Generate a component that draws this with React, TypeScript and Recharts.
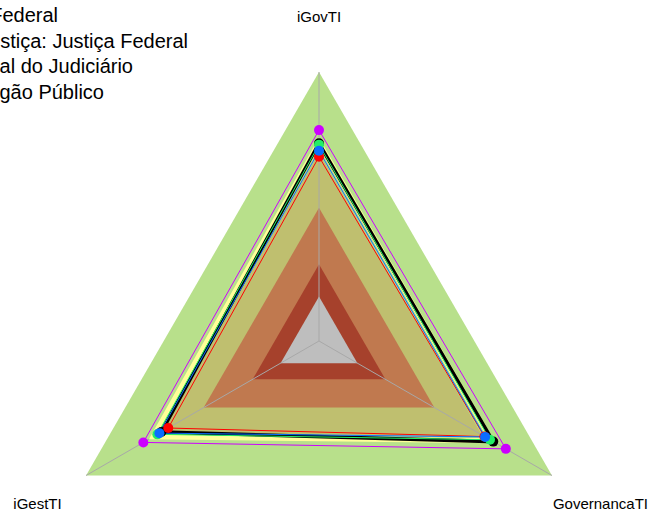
import { RadarChart, Radar, PolarGrid, PolarAngleAxis, PolarRadiusAxis } from 'recharts'

const indicators = ['iGovTI', 'GovernancaTI', 'iGestTI']

// faixas de referência (do maior para o menor)
const bandLimits = [1.0, 0.7, 0.495, 0.285, 0.165]
const bandColors = ['#b8e08b', '#bfbf6f', '#c0794f', '#a6412c', '#bebebe']

const yellowValues = [0.738, 0.742, 0.712]
const blackValues = [0.735, 0.748, 0.677]
const redValues = [0.685, 0.71, 0.647]
const greenValues = [0.73, 0.734, 0.694]
const blueValues = [0.707, 0.713, 0.685]
const magentaValues = [0.784, 0.802, 0.754]

const legendLabels = [
  'Administração Pública Federal',
  'Segmento de Justiça: Justiça Federal',
  'Média Geral do Judiciário',
  'Órgão Público',
]

const CX = 319
const CY = 341
const OUTER = 269
const LABEL_R = 325

const series = [
  { key: 'yellow', values: yellowValues, color: '#ffff99', width: 5, dot: false },
  { key: 'black', values: blackValues, color: '#000000', width: 3.5, dot: true },
  { key: 'red', values: redValues, color: '#ff0000', width: 1, dot: true },
  { key: 'green', values: greenValues, color: '#22ee66', width: 1, dot: true },
  { key: 'blue', values: blueValues, color: '#0a6cff', width: 1, dot: true },
  { key: 'magenta', values: magentaValues, color: '#cc00ff', width: 1, dot: true },
]

const data = indicators.map((name, i) => {
  const row: Record<string, number | string> = { name }
  bandLimits.forEach((v, b) => {
    row['band' + b] = v
  })
  series.forEach((s) => {
    row[s.key] = s.values[i]
  })
  return row
})

function AxisLabel(props: any) {
  const { x, y, payload } = props
  const dx = x - CX
  const dy = y - CY
  const len = Math.hypot(dx, dy) || 1
  const tx = CX + (dx / len) * LABEL_R
  const ty = CY + (dy / len) * LABEL_R
  return (
    <text x={tx} y={ty} textAnchor="middle" dominantBaseline="central" fontSize={15} fill="#000">
      {payload.value}
    </text>
  )
}

const makeDot = (color: string) => (p: any) => (
  <circle key={`${color}-${p.index}`} cx={p.cx} cy={p.cy} r={5} fill={color} stroke="none" />
)

export default function App() {
  return (
    <div
      style={{
        position: 'absolute',
        left: 0,
        top: 0,
        width: 652,
        height: 511,
        background: '#fff',
        overflow: 'hidden',
        fontFamily: '"Liberation Sans", Arial, sans-serif',
      }}
    >
      <RadarChart
        width={652}
        height={511}
        data={data}
        cx={CX}
        cy={CY}
        outerRadius={OUTER}
        margin={{ top: 0, right: 0, bottom: 0, left: 0 }}
      >
        <PolarRadiusAxis domain={[0, 1]} tick={false} axisLine={false} />
        {bandLimits.map((_, b) => (
          <Radar
            key={'band' + b}
            dataKey={'band' + b}
            stroke="none"
            fill={bandColors[b]}
            fillOpacity={1}
            dot={false}
            zIndex={-200}
            isAnimationActive={false}
          />
        ))}
        <PolarGrid gridType="polygon" polarRadius={[0]} stroke="#a8a8a8" strokeWidth={1} />
        <PolarAngleAxis dataKey="name" tick={<AxisLabel />} tickLine={false} axisLine={false} />
        {series.map((s) => (
          <Radar
            key={s.key}
            dataKey={s.key}
            stroke={s.color}
            strokeWidth={s.width}
            fill="none"
            fillOpacity={0}
            dot={s.dot ? makeDot(s.color) : false}
            isAnimationActive={false}
          />
        ))}
      </RadarChart>
      <div style={{ position: 'absolute', left: 0, top: 3, fontSize: 20, lineHeight: '25.5px', color: '#000' }}>
        {legendLabels.map((label, i) => (
          <div
            key={label}
            style={{
              width: [58, 188, 133, 104][i],
              display: 'flex',
              justifyContent: 'flex-end',
              whiteSpace: 'nowrap',
            }}
          >
            {label}
          </div>
        ))}
      </div>
    </div>
  )
}
